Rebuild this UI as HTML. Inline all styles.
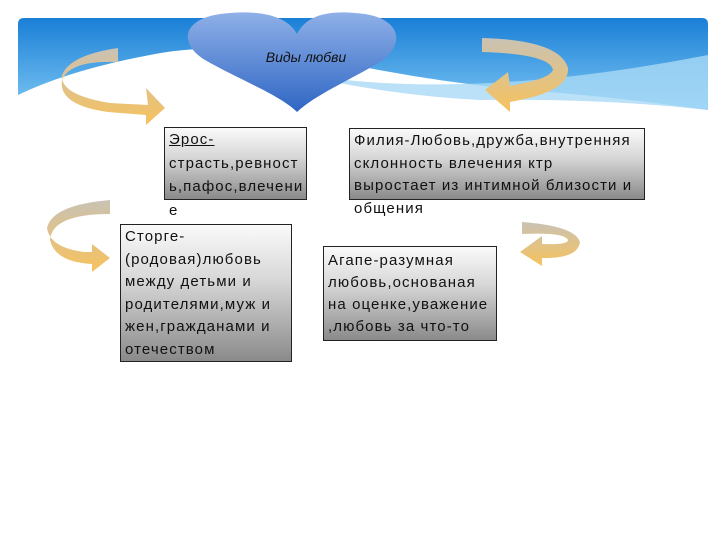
<!DOCTYPE html>
<html><head><meta charset="utf-8"><style>
body{margin:0;width:720px;height:540px;background:#fff;position:relative;overflow:hidden;font-family:"Liberation Sans","DejaVu Sans",sans-serif}
.b{position:absolute;border:1px solid #222;background:linear-gradient(#fafafa,#d8d8d8 40%,#8a8a8a);box-sizing:border-box;font-size:15px;line-height:22.5px;letter-spacing:1.1px;color:#111;padding:0 4px;white-space:nowrap}
</style></head><body>
<svg width="720" height="540" style="position:absolute;left:0;top:0">
<defs>
<linearGradient id="sky" x1="0" y1="0" x2="0" y2="1"><stop offset="0" stop-color="#1a7fd6"/><stop offset="1" stop-color="#7cc6f3"/></linearGradient>
<linearGradient id="ht" x1="0" y1="0" x2="0" y2="1"><stop offset="0" stop-color="#8fb0e8"/><stop offset="1" stop-color="#2f66c3"/></linearGradient>
<linearGradient id="ar" x1="0" y1="0" x2="0" y2="1"><stop offset="0" stop-color="#c9c2b4"/><stop offset="1" stop-color="#f7c25c"/></linearGradient>
</defs>
<path d="M24 18 H702 Q708 18 708 24 V110 Q600 95 520 90 Q420 80 330 60 Q220 40 150 55 Q70 70 18 95 V24 Q18 18 24 18Z" fill="url(#sky)"/>
<path d="M280 70 Q450 105 708 55 V110 Q600 98 480 100 Q380 95 280 70Z" fill="#a9daf6" opacity="0.8"/>
<path d="M297 34 C285 12 250 10 220 14 C180 20 180 45 205 60 C240 80 280 95 297 112 C315 95 350 80 380 62 C405 45 402 20 365 14 C335 10 308 12 297 34Z" fill="url(#ht)"/>
<text x="306" y="62" font-size="14" font-style="italic" text-anchor="middle" fill="#111">Виды любви</text>
<path d="M118 48 Q70 55 62 75 Q60 95 110 103 L148 105 L146 88 L165 108 L146 125 L146 115 L108 112 Q58 105 62 80 Q70 60 118 62Z" fill="url(#ar)"/>
<path d="M482 38 Q560 40 568 68 Q570 90 520 100 L510 102 L510 112 L485 90 L508 72 L510 86 L520 84 Q550 78 553 70 Q550 54 482 52Z" fill="url(#ar)"/>
<path d="M110 200 Q52 205 47 228 Q50 248 85 252 L92 252 L92 244 L110 258 L92 272 L92 264 Q55 262 50 240 Q52 214 110 214Z" fill="url(#ar)"/>
<path d="M522 222 Q575 226 580 242 Q578 258 545 258 L542 258 L542 266 L520 252 L542 236 L542 244 Q568 245 568 240 Q565 232 522 234Z" fill="url(#ar)"/>
</svg>
<div class="b" style="left:164px;top:127px;width:143px;height:73px;line-height:23.5px;padding-top:-2px"><span style="text-decoration:underline">Эрос-</span><br>страсть,ревност<br>ь,пафос,влечени<br>е</div>
<div class="b" style="left:349px;top:128px;width:296px;height:72px;line-height:22.5px;padding-top:1px">Филия-Любовь,дружба,внутренняя<br>склонность влечения ктр<br>выростает из интимной близости и<br>общения</div>
<div class="b" style="left:120px;top:224px;width:172px;height:138px;padding-top:1px">Сторге-<br>(родовая)любовь<br>между детьми и<br>родителями,муж и<br>жен,гражданами и<br>отечеством</div>
<div class="b" style="left:323px;top:246px;width:174px;height:95px;line-height:22px;padding-top:3px">Агапе-разумная<br>любовь,основаная<br>на оценке,уважение<br>,любовь за что-то</div>
</body></html>
